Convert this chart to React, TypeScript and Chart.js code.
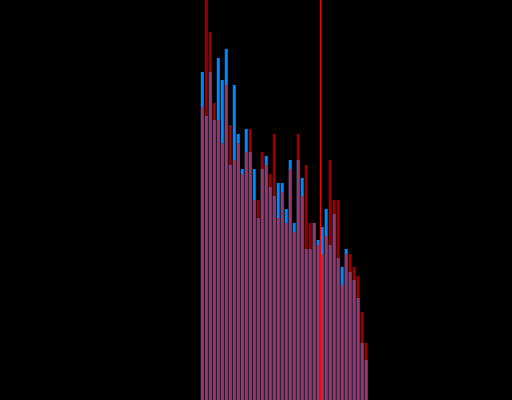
import React, { useEffect, useRef } from "react";
import { Chart, registerables } from "chart.js";

Chart.register(...registerables);

// Histogram bins: 128 bins in total, data present from bin 50 to bin 91
const binCount = 128;
const firstBin = 50;

// Series A (red, translucent, drawn on top)
const redValues = [
  293, 410, 368, 297, 280, 257, 315, 275, 240, 257,
  226, 248, 271, 200, 200, 248, 235, 226, 266, 182,
  208, 177, 231, 168, 266, 204, 235, 177, 177, 155,
  146, 164, 240, 200, 200, 115, 146, 146, 133, 124,
  88, 57,
];

// Series B (blue)
const blueValues = [
  328, 284, 328, 280, 342, 320, 351, 235, 315, 266,
  231, 271, 248, 231, 182, 231, 244, 213, 204, 217,
  217, 191, 240, 177, 240, 222, 151, 151, 177, 160,
  173, 191, 155, 186, 142, 133, 151, 128, 120, 102,
  57, 40,
];

// Vertical marker position (between bins 79 and 80)
const markerPosition = 79.5;

const yMax = 400;

export default function App() {
  const canvasRef = useRef<HTMLCanvasElement | null>(null);

  useEffect(() => {
    document.body.style.margin = "0";
    document.body.style.background = "#000";
    const canvas = canvasRef.current;
    if (!canvas) return;

    const labels = Array.from({ length: binCount }, (_, i) => String(i));
    const pad = (vals: number[]) => {
      const arr: (number | null)[] = new Array(binCount).fill(null);
      vals.forEach((v, k) => {
        arr[firstBin + k] = v;
      });
      return arr;
    };

    const markerPlugin = {
      id: "marker",
      afterDatasetsDraw(chart: any) {
        const raw = chart.scales.x.getPixelForValue(markerPosition);
        const x = Math.round(raw - 0.5) + 0.5;
        const { top, bottom } = chart.chartArea;
        const ctx = chart.ctx;
        ctx.save();
        ctx.strokeStyle = "rgb(255,0,0)";
        ctx.lineWidth = 1;
        ctx.beginPath();
        ctx.moveTo(x, top);
        ctx.lineTo(x, bottom);
        ctx.stroke();
        ctx.restore();
      },
    };

    const chart = new Chart(canvas, {
      type: "bar",
      data: {
        labels,
        datasets: [
          {
            label: "A",
            data: pad(redValues),
            backgroundColor: "rgba(255,0,0,0.6)",
            borderWidth: 0,
            grouped: false,
            barPercentage: 0.75,
            categoryPercentage: 1,
            inflateAmount: 0,
          } as any,
          {
            label: "B",
            data: pad(blueValues),
            backgroundColor: "rgb(0,136,255)",
            borderWidth: 0,
            grouped: false,
            barPercentage: 0.75,
            categoryPercentage: 1,
            inflateAmount: 0,
          } as any,
        ],
      },
      options: {
        responsive: false,
        animation: false,
        devicePixelRatio: 1,
        layout: { padding: { left: 0.5, right: -0.5, top: 0, bottom: 0 } },
        plugins: {
          legend: { display: false },
          tooltip: { enabled: false },
        },
        scales: {
          x: { display: false, offset: true, grid: { display: false } },
          y: { display: false, min: 0, max: yMax, grid: { display: false } },
        },
      },
      plugins: [markerPlugin],
    });

    return () => chart.destroy();
  }, []);

  return (
    <canvas
      ref={canvasRef}
      width={512}
      height={400}
      style={{ display: "block", position: "absolute", left: 0, top: 0, background: "#000" }}
    />
  );
}
